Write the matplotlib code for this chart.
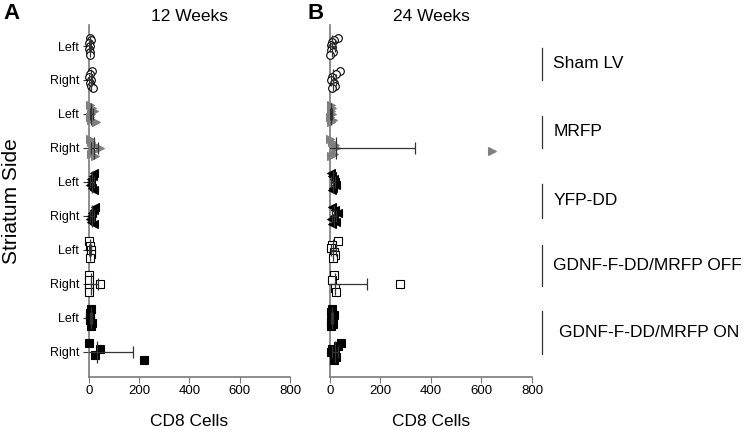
import matplotlib
matplotlib.use('Agg')

import matplotlib.pyplot as plt
import numpy as np

plt.rcParams['font.family'] = ['Liberation Sans', 'DejaVu Sans']

# rows from top to bottom
row_labels = ['Left', 'Right'] * 5
groups = ['Sham LV', 'MRFP', 'YFP-DD', 'GDNF-F-DD/MRFP OFF', 'GDNF-F-DD/MRFP ON']

# CD8 cell counts per animal, 12 weeks
wk12_points = [
    [3, 8, 2, 5, 1, 6, 4],
    [12, 4, 2, 7, 3, 10, 16],
    [5, 12, 18, 8, 3, 10, 28],
    [5, 10, 20, 42, 15, 8, 25],
    [20, 15, 10, 8, 5, 12, 18],
    [25, 18, 12, 8, 5, 10, 20],
    [2, 3, 8, 10, 5],
    [0, 0, 45, 0, 2],
    [10, 6, 3, 5, 12, 8],
    [0, 45, 25, 220],
]
wk12_center = [5, 7, 10, 21, 12, 13, 5, 9, 7, 31]
wk12_err = [4, 5, 7, 14, 6, 7, 4, 26, 4, 145]

# CD8 cell counts per animal, 24 weeks
wk24_points = [
    [30, 15, 8, 3, 10, 5, 12, 0],
    [40, 25, 10, 5, 15, 20, 8],
    [5, 10, 3, 8, 0, 12, 6],
    [0, 10, 20, 25, 640, 15, 5],
    [5, 10, 15, 20, 25, 12, 8],
    [10, 20, 30, 15, 5, 25, 8],
    [30, 10, 5, 15, 20, 12],
    [15, 10, 276, 20, 25],
    [10, 5, 15, 8, 3, 12, 6],
    [45, 30, 10, 5, 20, 25, 15],
]
wk24_center = [10, 14, 6, 24, 13, 16, 14, 20, 8, 21]
wk24_err = [8, 10, 4, 312, 7, 8, 8, 128, 4, 12]

marker_styles = [
    dict(marker='o', mfc='white', mec='black'),
    dict(marker='>', mfc='#808080', mec='#808080'),
    dict(marker='<', mfc='black', mec='black'),
    dict(marker='s', mfc='white', mec='black'),
    dict(marker='s', mfc='black', mec='black'),
]

fig = plt.figure(figsize=(7.44, 4.30), dpi=100)
axA = fig.add_axes([0.1196, 0.1233, 0.2702, 0.8187])
axB = fig.add_axes([0.4435, 0.1233, 0.2715, 0.8187])


def draw_panel(ax, points, center, err, title):
    for r, vals in enumerate(points):
        style = marker_styles[r // 2]
        n = len(vals)
        offs = np.linspace(-0.25, 0.25, n) if n > 1 else np.zeros(1)
        ax.plot(vals, r + offs, linestyle='none', ms=5.5, mew=0.8, zorder=3,
                clip_on=False, **style)
        c, e = center[r], err[r]
        ax.hlines(r, c - e, c + e, color='#333333', lw=0.9, zorder=4)
        ax.vlines(c, r - 0.32, r + 0.32, color='#333333', lw=0.9, zorder=4)
        ax.vlines([c - e, c + e], r - 0.17, r + 0.17, color='#333333',
                  lw=0.9, zorder=4)
    ax.set_xlim(0, 800)
    ax.set_ylim(9.74, -0.62)
    ax.set_xticks([0, 200, 400, 600, 800])
    ax.set_yticks(range(10))
    ax.set_yticklabels(row_labels)
    for s in ['top', 'right']:
        ax.spines[s].set_visible(False)
    for s in ['left', 'bottom']:
        ax.spines[s].set_color('#7a7a7a')
        ax.spines[s].set_linewidth(1.2)
    ax.tick_params(axis='x', labelsize=9.5, length=4, color='#7a7a7a', pad=2)
    ax.tick_params(axis='y', labelsize=9, length=4, color='#333333', pad=3)
    ax.set_title(title, fontsize=12.5, pad=3)
    ax.set_xlabel('CD8 Cells', fontsize=12.5, labelpad=12)


draw_panel(axA, wk12_points, wk12_center, wk12_err, '12 Weeks')
draw_panel(axB, wk24_points, wk24_center, wk24_err, '24 Weeks')
axB.tick_params(axis='y', labelleft=False, length=0)

axA.set_ylabel('Striatum Side', fontsize=15)
axA.yaxis.set_label_coords(-0.34, 0.5)

fig.text(0.004, 0.955, 'A', fontsize=16, fontweight='bold')
fig.text(0.413, 0.955, 'B', fontsize=16, fontweight='bold')

# group brackets on the right
trans = matplotlib.transforms.blended_transform_factory(axB.transAxes, axB.transData)
bracket_rows = [(0.05, 1.0), (2.05, 3.0), (4.05, 5.05), (5.85, 7.05), (7.8, 9.05)]
for g, name in enumerate(groups):
    y0, y1 = bracket_rows[g]
    axB.plot([1.05, 1.05], [y0, y1], color='#333333', lw=0.9,
             transform=trans, clip_on=False)
    dx = 1.135 if g == 4 else 1.105
    axB.text(dx, (y0 + y1) / 2, name, fontsize=12.5, va='center', ha='left',
             transform=trans)

fig.savefig('out.png', dpi=100)
